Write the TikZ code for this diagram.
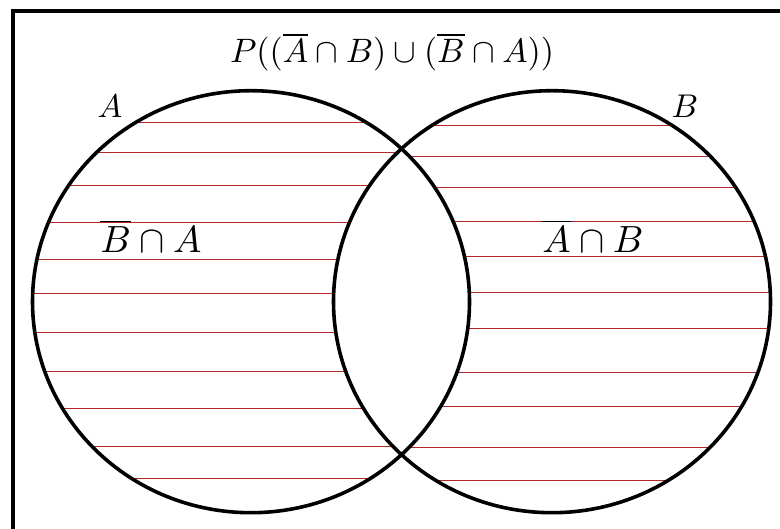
\documentclass[tikz,border=0pt]{standalone}
\definecolor{hatchred}{RGB}{180,40,40}
\begin{document}
\begin{tikzpicture}[x=1bp,y=-1bp,
  hatch/.style={draw=hatchred, line width=1.3pt},
  outline/.style={draw=black, line width=3.6pt},
  frameline/.style={draw=black, line width=4pt},
  bigtxt/.style={inner sep=0pt, scale=3.4},
  regtxt/.style={inner sep=0pt, scale=3.8},
  setlab/.style={inner sep=0pt, scale=3.3}]
\useasboundingbox (0,0) rectangle (780,529);
\fill[white] (0,0) rectangle (780,529);
% frame (top and left edges visible)
\coordinate (fTL) at (13,11);
\coordinate (fTR) at (780,11);
\coordinate (fBL) at (13,529);
\draw[frameline] (fTR) -- (fTL) -- (fBL);
% hatching in A only
\begin{scope}
  \clip (251,301.7) ellipse [x radius=218.5, y radius=211];
  \foreach \yy in {122.5,152.5,185.5,222.5,259.5,293.5,332.5,371.5,408.5,446.5,478.5}
    \draw[hatch] (0,\yy) -- (780,\yy);
\end{scope}
% hatching in B only
\begin{scope}
  \clip (552,301.7) ellipse [x radius=218.5, y radius=211];
  \foreach \yy in {125.5,156.5,187.5,221.5,256.5,292.5,328.5,372.5,406.5,447.5,480.5}
    \draw[hatch] (0,\yy) -- (780,\yy);
\end{scope}
% blank intersection
\begin{scope}
  \clip (251,301.7) ellipse [x radius=218.5, y radius=211];
  \fill[white] (552,301.7) ellipse [x radius=218.5, y radius=211];
\end{scope}
% circles
\draw[outline] (251,301.7) ellipse [x radius=218.5, y radius=211];
\draw[outline] (552,301.7) ellipse [x radius=218.5, y radius=211];
% texts
\node[bigtxt] (title) at (392,52) {$P((\overline{A}\cap B)\cup(\overline{B}\cap A))$};
\node[setlab] (labA) at (110,106) {$A$};
\node[setlab] (labB) at (685,106) {$B$};
\node[regtxt] (regBA) at (151,236) {$\overline{B}\cap A$};
\node[regtxt] (regAB) at (593,236) {$\overline{A}\cap B$};
\end{tikzpicture}
\end{document}
